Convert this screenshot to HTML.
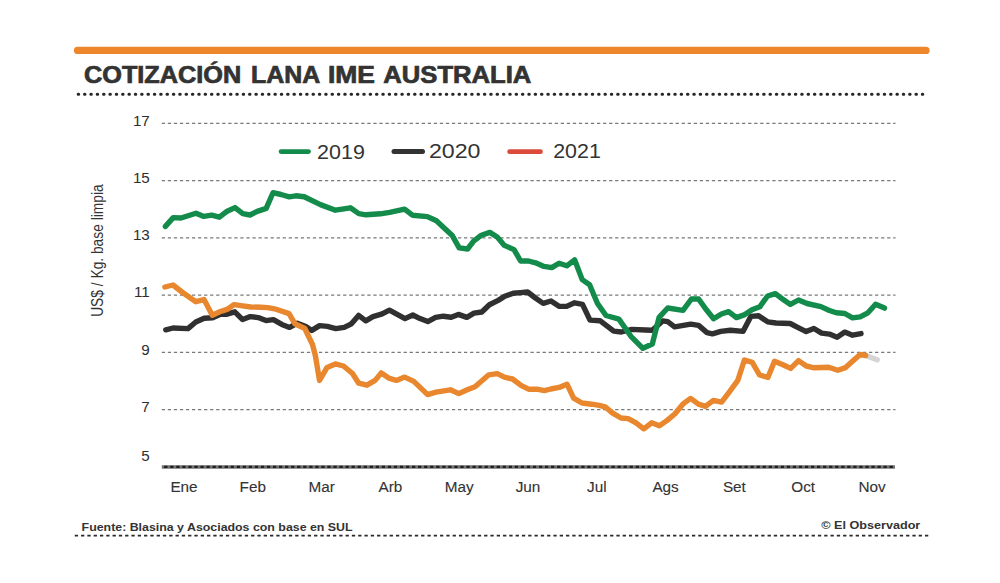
<!DOCTYPE html>
<html><head><meta charset="utf-8"><title>Cotización Lana IME Australia</title>
<style>html,body{margin:0;padding:0;background:#fff;width:1000px;height:583px;overflow:hidden}svg{display:block}</style>
</head><body>
<svg width="1000" height="583" viewBox="0 0 1000 583">
<rect width="1000" height="583" fill="#ffffff"/>
<line x1="77.5" y1="50.4" x2="926" y2="50.4" stroke="#ee862b" stroke-width="7.2" stroke-linecap="round"/>
<text x="84" y="82.8" font-family='"Liberation Sans", sans-serif' font-weight="bold" font-size="23" fill="#333333" stroke="#333333" stroke-width="0.7" textLength="157.2" lengthAdjust="spacingAndGlyphs">COTIZACIÓN</text>
<text x="251.1" y="82.8" font-family='"Liberation Sans", sans-serif' font-weight="bold" font-size="23" fill="#333333" stroke="#333333" stroke-width="0.7" textLength="69.2" lengthAdjust="spacingAndGlyphs">LANA</text>
<text x="327.9" y="82.8" font-family='"Liberation Sans", sans-serif' font-weight="bold" font-size="23" fill="#333333" stroke="#333333" stroke-width="0.7" textLength="47.0" lengthAdjust="spacingAndGlyphs">IME</text>
<text x="383.3" y="82.8" font-family='"Liberation Sans", sans-serif' font-weight="bold" font-size="23" fill="#333333" stroke="#333333" stroke-width="0.7" textLength="148.1" lengthAdjust="spacingAndGlyphs">AUSTRALIA</text>
<line x1="78.15" y1="94.2" x2="922.8" y2="94.2" stroke="#262626" stroke-width="3" stroke-linecap="round" stroke-dasharray="0.5 5.847"/>
<line x1="161.75" y1="123.4" x2="895.5" y2="123.4" stroke="#7a7a7a" stroke-width="1.3" stroke-dasharray="3.3 2.745"/>
<text x="149.8" y="125.6" text-anchor="end" font-family='"Liberation Sans", sans-serif' font-size="15.2" fill="#2e2e2e">17</text>
<line x1="161.75" y1="180.64" x2="895.5" y2="180.64" stroke="#7a7a7a" stroke-width="1.3" stroke-dasharray="3.3 2.745"/>
<text x="149.8" y="182.8" text-anchor="end" font-family='"Liberation Sans", sans-serif' font-size="15.2" fill="#2e2e2e">15</text>
<line x1="161.75" y1="237.88" x2="895.5" y2="237.88" stroke="#7a7a7a" stroke-width="1.3" stroke-dasharray="3.3 2.745"/>
<text x="149.8" y="240.1" text-anchor="end" font-family='"Liberation Sans", sans-serif' font-size="15.2" fill="#2e2e2e">13</text>
<line x1="161.75" y1="295.12" x2="895.5" y2="295.12" stroke="#7a7a7a" stroke-width="1.3" stroke-dasharray="3.3 2.745"/>
<text x="149.8" y="297.3" text-anchor="end" font-family='"Liberation Sans", sans-serif' font-size="15.2" fill="#2e2e2e">11</text>
<line x1="161.75" y1="352.36" x2="895.5" y2="352.36" stroke="#7a7a7a" stroke-width="1.3" stroke-dasharray="3.3 2.745"/>
<text x="149.8" y="354.6" text-anchor="end" font-family='"Liberation Sans", sans-serif' font-size="15.2" fill="#2e2e2e">9</text>
<line x1="161.75" y1="409.6" x2="895.5" y2="409.6" stroke="#7a7a7a" stroke-width="1.3" stroke-dasharray="3.3 2.745"/>
<text x="149.8" y="411.8" text-anchor="end" font-family='"Liberation Sans", sans-serif' font-size="15.2" fill="#2e2e2e">7</text>
<line x1="161.8" y1="466.9" x2="895" y2="466.9" stroke="#737373" stroke-width="3.5"/><line x1="164.15" y1="466.9" x2="895" y2="466.9" stroke="#202020" stroke-width="2.2" stroke-dasharray="3.3 2.745"/>
<text x="149.8" y="461" text-anchor="end" font-family='"Liberation Sans", sans-serif' font-size="15.2" fill="#2e2e2e">5</text>
<text transform="translate(103,250.6) rotate(-90)" text-anchor="middle" font-family='"Liberation Sans", sans-serif' font-size="16.5" fill="#333" textLength="132.5" lengthAdjust="spacingAndGlyphs">US$ / Kg. base limpia</text>
<text x="184.0" y="492" text-anchor="middle" font-family='"Liberation Sans", sans-serif' font-size="15.3" fill="#333" stroke="#333" stroke-width="0.12">Ene</text>
<text x="252.8" y="492" text-anchor="middle" font-family='"Liberation Sans", sans-serif' font-size="15.3" fill="#333" stroke="#333" stroke-width="0.12">Feb</text>
<text x="321.6" y="492" text-anchor="middle" font-family='"Liberation Sans", sans-serif' font-size="15.3" fill="#333" stroke="#333" stroke-width="0.12">Mar</text>
<text x="390.4" y="492" text-anchor="middle" font-family='"Liberation Sans", sans-serif' font-size="15.3" fill="#333" stroke="#333" stroke-width="0.12">Arb</text>
<text x="459.2" y="492" text-anchor="middle" font-family='"Liberation Sans", sans-serif' font-size="15.3" fill="#333" stroke="#333" stroke-width="0.12">May</text>
<text x="528.0" y="492" text-anchor="middle" font-family='"Liberation Sans", sans-serif' font-size="15.3" fill="#333" stroke="#333" stroke-width="0.12">Jun</text>
<text x="596.8" y="492" text-anchor="middle" font-family='"Liberation Sans", sans-serif' font-size="15.3" fill="#333" stroke="#333" stroke-width="0.12">Jul</text>
<text x="665.6" y="492" text-anchor="middle" font-family='"Liberation Sans", sans-serif' font-size="15.3" fill="#333" stroke="#333" stroke-width="0.12">Ags</text>
<text x="734.4" y="492" text-anchor="middle" font-family='"Liberation Sans", sans-serif' font-size="15.3" fill="#333" stroke="#333" stroke-width="0.12">Set</text>
<text x="803.2" y="492" text-anchor="middle" font-family='"Liberation Sans", sans-serif' font-size="15.3" fill="#333" stroke="#333" stroke-width="0.12">Oct</text>
<text x="872.0" y="492" text-anchor="middle" font-family='"Liberation Sans", sans-serif' font-size="15.3" fill="#333" stroke="#333" stroke-width="0.12">Nov</text>
<line x1="281" y1="151.6" x2="308.6" y2="151.6" stroke="#138b4b" stroke-width="4.6" stroke-linecap="round"/>
<text x="317.1" y="158.6" font-family='"Liberation Sans", sans-serif' font-size="20.3" fill="#333" textLength="47.8" lengthAdjust="spacingAndGlyphs">2019</text>
<line x1="394" y1="151.6" x2="422.5" y2="151.6" stroke="#333" stroke-width="5" stroke-linecap="round"/>
<text x="428.9" y="158.4" font-family='"Liberation Sans", sans-serif' font-size="20.3" fill="#333" textLength="51.6" lengthAdjust="spacingAndGlyphs">2020</text>
<line x1="509.6" y1="151.7" x2="540.5" y2="151.7" stroke="#dc4a3c" stroke-width="4.7" stroke-linecap="round"/>
<text x="553.2" y="158.3" font-family='"Liberation Sans", sans-serif' font-size="20.3" fill="#333" textLength="47.6" lengthAdjust="spacingAndGlyphs">2021</text>
<polyline points="865.6,355.5 877.2,359.8" fill="none" stroke="#d4d4d4" stroke-width="5.4" stroke-linecap="round" stroke-linejoin="round"/>
<polyline points="165.8,329.8 173,328 188,328.6 195.8,322 204.2,318.2 212.6,317.8 220.4,314.2 227,314.2 234.8,311.8 242.6,319.6 250.4,316.6 258.2,317.6 266,320.6 273.4,319.6 281.8,324.4 289.6,327.4 297.4,323.2 305.8,326.4 311.8,330.4 319.6,325.6 327.4,326.4 335.8,328.6 344.2,327.4 351.4,323.8 358.6,315.4 365.8,320.8 373,316.6 382.2,313.8 389.4,310.2 397.2,314.4 405,318.6 412.8,315 420,318.6 427.8,321.6 435.6,317.4 443.4,316.2 451.2,317.2 458.4,314.4 466.8,317.4 474,313.2 481.8,312 489.4,304.7 498.2,300.4 504.8,296.2 513.2,293.2 520.4,292.6 527.6,292 535.4,298 543.2,303.4 551,301 559.4,306.4 566.6,306.4 574.6,302.8 582.5,304.3 590,320.1 600,320.7 613.7,331.1 621.4,332 631.7,329.4 645.4,330 652.3,330.3 662.6,320.9 667.7,321.7 674.6,326.9 690.8,324.2 698.6,325.4 707,332.6 712.4,333.8 720.8,331.4 730.4,330.2 743,331.4 750.8,316.4 758.6,315.8 767.6,321.8 776,323 790.2,323.5 797.7,327.4 806.2,331.6 813.9,328.5 821.6,333.1 829.4,334.1 837.1,337.2 844.8,332.1 852.5,335.2 861,333.6" fill="none" stroke="#303030" stroke-width="5.4" stroke-linecap="round" stroke-linejoin="round"/>
<polyline points="164.9,287 173,285 182.6,292.5 195.8,301.7 204,299.6 212.3,315.2 219.8,311.8 227,309.4 234.2,304.6 242.6,305.8 251,307 260.6,307.2 267.8,307.6 274.6,308.8 289,313.6 295,323.8 304.8,328.5 312.5,344.5 315.4,355.7 319.5,380.4 327.1,367.4 335.3,363.9 343.5,366 352.5,373.5 358.7,383.2 366.9,385.2 375.1,380.4 381.3,372.9 389.5,378.4 396.4,380.4 404.7,377.1 413.8,381.4 427.6,394.6 436,392.2 450.4,389.8 458.8,393.6 467.2,389.8 475,386.8 488.8,374.8 497.2,373.6 504.4,377.2 512.5,379 521.4,385.6 528.6,389.2 537,389.2 544.2,390.6 550.8,389 559.2,387.4 567,384.2 573.6,398.2 582,403 591.6,404.2 599.4,405.4 605.7,407.2 612.3,412.9 621,418 628.2,418.6 636,422.8 643.8,428.8 651.6,422.8 659.4,425.8 667.2,420.4 675,413.8 682.8,404.2 690.6,398.4 698.4,404.2 705.5,406.3 713.3,400.4 721.6,402.1 729.4,391.8 737.8,380.4 744.4,360 752.3,362.4 759.5,375 767.9,377.4 774.5,361.2 782.9,364.8 790.7,368.4 798.5,360.6 806.3,366 814.4,367.8 828.6,367.3 837.8,370.3 845.6,367.6 853.3,360.6 860.2,354.4 865.6,355.5" fill="none" stroke="#e8872e" stroke-width="5.4" stroke-linecap="round" stroke-linejoin="round"/>
<polyline points="165.4,226.4 173.2,217.6 181,218 196,213.2 203.8,216.4 211.6,215.2 219.4,217.2 227.2,211.2 235,207.6 242.8,213.6 250,215 257.2,211.4 266.2,208.4 273,192.7 281,194.5 289.2,196.8 295.8,195.8 304.2,196.8 320.4,204.6 335.4,210.2 350.4,207.8 358.8,213.6 366,214.8 380.4,213.8 389.6,212.4 404.6,209.2 412.4,215.2 427.4,216.6 436.4,220.8 443.6,227.4 452,235.2 459.2,247.8 467.6,249 473.6,241.2 481.4,235.2 489.8,232.4 497.2,237 504.4,245.4 514,249.6 520.6,261 528.4,261 535.6,262.8 544,266.4 551.8,267.6 559,263.2 566.8,265.8 574.6,259.8 582.2,279.6 589.6,284.8 597.5,303.5 606,315.5 618.9,319.1 630.9,336.3 642.9,348.3 652.3,344 659.1,317.4 667.7,308 683,310.4 691.4,299 698.6,299 706.4,309.8 713.6,318.8 721.4,314 728.6,311.6 736.4,317.6 744.8,314.6 752,309.8 759.8,306.8 767.6,296 775.4,293.6 783.2,299.6 790.4,304.4 798.5,300 807,303.5 820.9,306.6 829.4,310.5 836.3,312.8 844.8,313.5 852.5,317.9 860.2,316.9 867.9,312.8 875.6,304.3 884.5,308.1" fill="none" stroke="#138b4b" stroke-width="5.4" stroke-linecap="round" stroke-linejoin="round"/>
<text x="81.6" y="531.4" font-family='"Liberation Sans", sans-serif' font-weight="bold" font-size="11.5" fill="#333" textLength="271" lengthAdjust="spacingAndGlyphs">Fuente: Blasina y Asociados con base en SUL</text>
<text x="821.3" y="528.9" font-family='"Liberation Sans", sans-serif' font-weight="bold" font-size="11.5" fill="#333" textLength="99" lengthAdjust="spacingAndGlyphs">© El Observador</text>
<line x1="74.75" y1="535.6" x2="928.3" y2="535.6" stroke="#2a2a2a" stroke-width="1.8" stroke-dasharray="3.3 2.998"/>
</svg>
</body></html>
